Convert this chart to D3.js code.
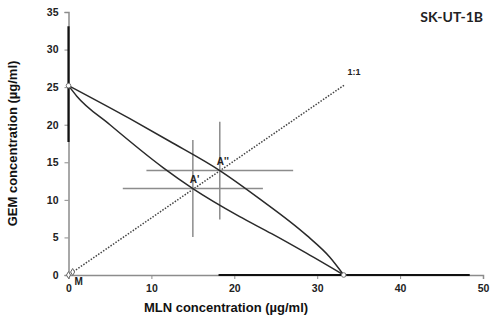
<!DOCTYPE html>
<html>
<head>
<meta charset="utf-8">
<script src="https://cdn.jsdelivr.net/npm/d3@7"></script>
<style>
  body { margin: 0; background: #fff; }
  svg { display: block; font-family: "Liberation Sans", Arial, sans-serif; }
</style>
</head>
<body>
<svg id="chart" width="495" height="325"></svg>
<script>
// isobologram data (MLN on x, GEM on y)
const xTicks = [0, 10, 20, 30, 40, 50]
const yTicks = [0, 5, 10, 15, 20, 25, 30, 35]

const upperCurve = [[0, 25.2], [7.4, 20.8], [12.2, 17.8], [18.25, 13.9], [23.1, 10.1], [28.7, 5.3], [31.5, 2.4], [33.2, 0]]
const lowerCurve = [[0, 25.2], [1, 23.8], [5, 20.0], [11.4, 14.3], [15, 11.5], [20.6, 7.8], [24.5, 5.5], [28.7, 2.9], [33.2, 0]]
const diagonal = [[0, 0], [33.3, 25.3]]
const endPoints = [[0, 25.2], [33.2, 0]]
const originMarks = [[0, 0], [0.5, 0.4]]

// single-agent ranges drawn on the axes
const gemRange = [17.7, 33.1]
const mlnRange = [18.1, 48.4]

// combination points with error bars
const points = [
    {name: "A'", x: 15.0, y: 11.5, xErr: 8.45, yErr: 6.45},
    {name: "A''", x: 18.25, y: 13.9, xErr: 8.85, yErr: 6.5}
]

const svg = d3.select("#chart"),
    margin = {left: 68.5, right: 12, top: 12, bottom: 50},
    width = 495 - margin.left - margin.right,
    height = 325 - margin.top - margin.bottom,
    x = d3.scaleLinear().domain([0, 50]).range([0, width]),
    y = d3.scaleLinear().domain([0, 35]).range([height, 0]),
    g = svg.append("g").attr("transform", `translate(${margin.left},${margin.top})`)

// axes
const xAxis = g.append("g")
    .attr("transform", `translate(0,${height})`)
    .call(d3.axisBottom(x).tickValues(xTicks).tickSize(4).tickPadding(6))
const yAxis = g.append("g")
    .call(d3.axisLeft(y).tickValues(yTicks).tickSize(4).tickPadding(6))

;[xAxis, yAxis].forEach(a => {
    a.select(".domain").attr("stroke", "#8c8c8c").attr("stroke-width", 1.5)
    a.selectAll(".tick line").attr("stroke", "#8c8c8c").attr("stroke-width", 1)
    a.selectAll(".tick text")
        .attr("fill", "#222")
        .style("font-size", "10.5px")
        .style("font-weight", "bold")
})

// thick ranges on axes
g.append("line")
    .attr("x1", x(0)).attr("x2", x(0))
    .attr("y1", y(gemRange[0])).attr("y2", y(gemRange[1]))
    .attr("stroke", "#111").attr("stroke-width", 2.2)
g.append("line")
    .attr("x1", x(mlnRange[0])).attr("x2", x(mlnRange[1]))
    .attr("y1", y(0)).attr("y2", y(0))
    .attr("stroke", "#111").attr("stroke-width", 2.2)

// 1:1 line
const line = d3.line().x(d => x(d[0])).y(d => y(d[1]))
g.append("path")
    .attr("d", line(diagonal))
    .attr("fill", "none")
    .attr("stroke", "#444")
    .attr("stroke-width", 1.5)
    .attr("stroke-dasharray", "1.5,1.5")

// error bars
points.forEach(p => {
    g.append("line")
        .attr("x1", x(p.x - p.xErr)).attr("x2", x(p.x + p.xErr))
        .attr("y1", y(p.y)).attr("y2", y(p.y))
        .attr("stroke", "#8c8c8c").attr("stroke-width", 1.5)
    g.append("line")
        .attr("x1", x(p.x)).attr("x2", x(p.x))
        .attr("y1", y(p.y - p.yErr)).attr("y2", y(p.y + p.yErr))
        .attr("stroke", "#8c8c8c").attr("stroke-width", 1.5)
})

// curves
const curve = d3.line().x(d => x(d[0])).y(d => y(d[1])).curve(d3.curveMonotoneX)
;[upperCurve, lowerCurve].forEach(c => {
    g.append("path")
        .attr("d", curve(c))
        .attr("fill", "none")
        .attr("stroke", "#2a2a2a")
        .attr("stroke-width", 1.5)
})

// open markers
g.selectAll("circle.end")
    .data(endPoints)
    .join("circle")
    .attr("class", "end")
    .attr("cx", d => x(d[0]))
    .attr("cy", d => y(d[1]))
    .attr("r", 2.3)
    .attr("fill", "#fff")
    .attr("stroke", "#777")
    .attr("stroke-width", 1)

g.selectAll("path.orig")
    .data(originMarks)
    .join("path")
    .attr("class", "orig")
    .attr("transform", d => `translate(${x(d[0])},${y(d[1])})`)
    .attr("d", d3.symbol(d3.symbolDiamond, 14))
    .attr("fill", "#fff")
    .attr("stroke", "#666")
    .attr("stroke-width", 1)

// labels
g.append("text")
    .attr("x", x(0) + 6).attr("y", y(0) + 10)
    .text("M")
    .style("font-size", "10px").style("font-weight", "bold").attr("fill", "#222")

points.forEach(p => {
    g.append("text")
        .attr("x", x(p.x) - 3).attr("y", y(p.y) - 6)
        .text(p.name)
        .style("font-size", "10px").style("font-weight", "bold").attr("fill", "#222")
})

g.append("text")
    .attr("x", x(diagonal[1][0]) + 3).attr("y", y(diagonal[1][1]) - 10)
    .text("1:1")
    .style("font-size", "9px").style("font-weight", "bold").attr("fill", "#222")

svg.append("text")
    .attr("x", 483).attr("y", 22)
    .attr("text-anchor", "end")
    .text("SK-UT-1B")
    .style("font-family", "Lato, 'Open Sans', sans-serif")
    .style("font-size", "14px").style("font-weight", "bold").attr("fill", "#222")

svg.append("text")
    .attr("x", margin.left + x(19)).attr("y", 312)
    .attr("text-anchor", "middle")
    .text("MLN concentration (µg/ml)")
    .style("font-size", "13px").style("font-weight", "bold").attr("fill", "#111")

svg.append("text")
    .attr("transform", `translate(17,${margin.top + y(17.5)}) rotate(-90)`)
    .attr("text-anchor", "middle")
    .text("GEM concentration (µg/ml)")
    .style("font-size", "13px").style("font-weight", "bold").attr("fill", "#111")
</script>
</body>
</html>
